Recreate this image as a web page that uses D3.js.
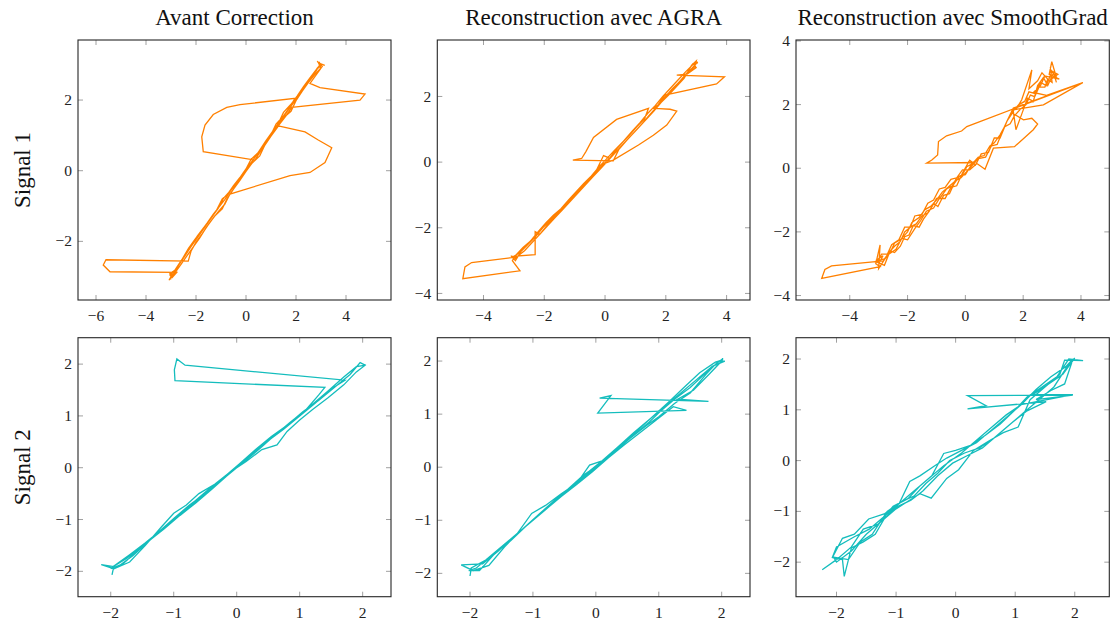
<!DOCTYPE html>
<html><head><meta charset="utf-8">
<script src="https://cdn.jsdelivr.net/npm/d3@7"></script>
<style>body{margin:0;background:#fff}svg{display:block}</style>
</head><body>
<svg id="c" width="1111" height="622"></svg>
<script>
// ---------- data ----------
const colTitles = ["Avant Correction", "Reconstruction avec AGRA", "Reconstruction avec SmoothGrad"];
const rowLabels = ["Signal 1", "Signal 2"];

const ticksS1AvantX = [-6, -4, -2, 0, 2, 4];
const ticksS1AvantY = [-2, 0, 2];
const ticksS1AgraX = [-4, -2, 0, 2, 4];
const ticksS1AgraY = [-4, -2, 0, 2];
const ticksS1SmoothX = [-4, -2, 0, 2, 4];
const ticksS1SmoothY = [-4, -2, 0, 2, 4];
const ticksS2 = [-2, -1, 0, 1, 2];

const domS1AvantX = [-6.72, 5.8],  domS1AvantY = [-3.66, 3.70];
const domS1AgraX = [-5.52, 4.77],  domS1AgraY = [-4.2, 3.72];
const domS1SmoothX = [-5.86, 4.98], domS1SmoothY = [-4.14, 4.03];
const domS2AvantX = [-2.52, 2.45], domS2AvantY = [-2.49, 2.51];
const domS2AgraX = [-2.52, 2.45],  domS2AgraY = [-2.44, 2.44];
const domS2SmoothX = [-2.68, 2.58], domS2SmoothY = [-2.68, 2.42];

const sig1Avant = [
[-3.02,-3.08],[-2.95,-2.9],[-3.05,-2.98],[-2.8,-2.78],[-2.55,-2.5],[-2.3,-2.2],[-2.05,-1.95],[-1.8,-1.72],[-1.55,-1.48],[-1.3,-1.22],[-1.05,-1.0],[-0.85,-0.82],[-0.6,-0.55],[-0.35,-0.32],[-0.1,-0.05],[0.15,0.18],[0.4,0.42],[0.65,0.66],[0.9,0.92],[1.15,1.18],[1.4,1.42],[1.65,1.68],[1.9,1.92],[2.15,2.2],[2.4,2.42],[2.65,2.68],[2.85,2.9],[3.0,3.02],[3.15,2.98],[2.9,3.05],[3.0,2.9],
[2.56,2.47],[2.96,2.35],[4.76,2.17],[4.56,2.0],[1.83,1.79],[1.6,1.55],[1.29,1.27],[2.36,1.10],[2.89,0.87],[3.43,0.65],[3.16,0.23],[2.56,-0.05],[1.76,-0.14],[-0.64,-0.66],[-0.85,-0.95],[-1.1,-1.15],[-1.35,-1.38],[-1.6,-1.62],[-1.85,-1.9],[-2.1,-2.15],[-2.35,-2.4],[-2.6,-2.65],[-2.8,-2.85],[-3.0,-3.0],[-3.08,-3.1],[-2.92,-2.95],
[-2.7,-2.68],[-2.45,-2.42],[-2.2,-2.15],[-1.95,-1.85],[-1.7,-1.62],[-1.45,-1.4],[-1.2,-1.15],[-0.95,-0.8],[-0.75,-0.68],[-0.5,-0.42],[-0.25,-0.2],[0.0,0.05],[0.2,0.32],[0.5,0.52],[0.75,0.78],[1.0,1.02],[1.2,1.32],[1.5,1.55],[1.75,1.8],[1.96,2.05],[-0.24,1.87],[-0.77,1.79],[-1.31,1.59],[-1.64,1.29],[-1.77,0.96],[-1.71,0.54],[0.36,0.30],[0.55,0.52],[0.8,0.8],[1.05,1.05],[1.3,1.32],[1.55,1.6],[1.8,1.85],[2.05,2.1],[2.3,2.32],[2.55,2.6],[2.8,2.82],[2.95,3.0],[2.85,3.1],[3.05,2.95],
[2.75,2.72],[2.5,2.5],[2.25,2.25],[2.0,1.98],[1.8,1.68],[1.5,1.5],[1.25,1.22],[1.0,0.98],[0.75,0.72],[0.55,0.42],[0.25,0.22],[0.0,-0.02],[-0.25,-0.28],[-0.5,-0.52],[-0.75,-0.78],[-0.95,-1.08],[-1.25,-1.28],[-1.5,-1.52],[-1.75,-1.78],[-2.0,-2.02],[-2.2,-2.28],[-2.31,-2.56],[-5.6,-2.52],[-5.71,-2.67],[-5.44,-2.86],[-2.77,-2.88],[-2.95,-3.02],[-3.05,-2.92],[-2.85,-2.82],
[-2.6,-2.55],[-2.35,-2.3],[-2.1,-2.05],[-1.85,-1.8],[-1.6,-1.55],[-1.35,-1.3],[-1.1,-1.05],[-0.9,-0.78],[-0.7,-0.62],[-0.45,-0.4],[-0.2,-0.18],[0.05,0.08],[0.3,0.32],[0.55,0.58],[0.8,0.85],[1.05,1.1],[1.3,1.35],[1.5,1.65],[1.8,1.88],[2.05,2.12],[2.3,2.38],[2.55,2.62],[2.8,2.85],[3.0,2.98],[2.92,3.08]
];

const sig1Agra = [
[-3.0,-2.95],[-3.1,-2.85],[-2.95,-3.0],[-2.75,-2.7],[-2.5,-2.45],[-2.25,-2.2],[-2.0,-1.95],[-1.75,-1.7],[-1.5,-1.5],[-1.25,-1.25],[-1.0,-1.0],[-0.75,-0.72],[-0.5,-0.5],[-0.25,-0.25],[0.0,-0.02],[0.25,0.22],[0.5,0.45],[0.75,0.7],[1.0,0.95],[1.25,1.2],[1.5,1.45],[1.75,1.72],[2.0,1.98],[2.25,2.25],[2.5,2.5],[2.75,2.75],[2.95,2.95],[3.05,3.05],[2.9,3.0],[3.0,2.88],
[2.7,2.68],[2.36,2.65],[3.93,2.60],[3.67,2.38],[1.97,2.04],[1.75,1.75],[1.59,1.64],[2.14,1.61],[2.36,1.55],[2.03,1.13],[1.59,0.82],[1.10,0.52],[0.27,0.06],[-0.16,-0.09],[-0.4,-0.42],[-0.65,-0.68],[-0.9,-0.92],[-1.15,-1.18],[-1.4,-1.42],[-1.65,-1.68],[-1.9,-1.92],[-2.15,-2.2],[-2.4,-2.45],[-2.65,-2.7],[-2.91,-2.89],[-4.39,-3.06],[-4.61,-3.19],[-4.68,-3.55],[-2.80,-3.31],[-3.05,-3.0],[-2.95,-2.85],
[-2.7,-2.6],[-2.45,-2.4],[-2.2,-2.12],[-1.95,-1.85],[-1.7,-1.62],[-1.45,-1.42],[-1.2,-1.15],[-0.95,-0.9],[-0.7,-0.65],[-0.45,-0.42],[-0.2,-0.15],[0.05,0.1],[0.3,0.35],[0.55,0.58],[0.8,0.82],[1.05,1.08],[1.3,1.32],[1.43,1.64],[0.38,1.30],[-0.38,0.75],[-0.63,0.32],[-0.77,0.11],[-1.06,0.06],[0.27,0.04],[0.45,0.38],[0.7,0.65],[0.95,0.9],[1.2,1.15],[1.45,1.42],[1.7,1.68],[1.95,1.95],[2.2,2.22],[2.45,2.45],[2.7,2.72],[2.95,2.9],[3.0,3.08],[2.85,2.95],
[2.6,2.55],[2.35,2.3],[2.1,2.05],[1.85,1.82],[1.6,1.55],[1.35,1.3],[1.1,1.05],[0.85,0.8],[0.6,0.55],[0.35,0.3],[0.1,0.05],[-0.15,-0.2],[-0.4,-0.45],[-0.65,-0.7],[-0.9,-0.95],[-1.15,-1.2],[-1.4,-1.45],[-1.65,-1.7],[-1.9,-1.95],[-2.15,-2.2],[-2.3,-2.12],[-2.30,-2.82],[-3.02,-2.87],[-2.9,-2.95],[-3.05,-2.9],
[-2.8,-2.75],[-2.55,-2.52],[-2.3,-2.28],[-2.05,-2.0],[-1.8,-1.78],[-1.55,-1.55],[-1.3,-1.28],[-1.05,-1.05],[-0.8,-0.78],[-0.55,-0.55],[-0.3,-0.28],[-0.05,0.2],[0.15,0.12],[0.4,0.42],[0.65,0.68],[0.9,0.95],[1.15,1.2],[1.4,1.48],[1.65,1.72],[1.9,2.0],[2.15,2.25],[2.4,2.5],[2.65,2.75],[2.9,2.98],[3.05,3.02]
];

const sig1Smooth = [
[-3.0,-3.0],[-2.85,-2.75],[-3.1,-2.9],[-2.8,-2.85],[-2.6,-2.6],[-2.45,-2.45],[-2.25,-2.3],[-2.1,-2.0],[-1.9,-1.85],[-1.7,-1.75],[-1.5,-1.5],[-1.3,-1.4],[-1.15,-1.2],[-1.0,-0.95],[-0.85,-0.9],[-0.65,-0.65],[-0.45,-0.55],[-0.3,-0.3],[-0.1,-0.2],[0.05,0.05],[0.25,0.15],[0.45,0.35],[0.65,0.4],[0.85,0.7],[1.0,0.8],[1.2,1.05],[1.35,1.3],[1.55,1.4],[1.7,1.65],[1.9,1.85],[2.1,2.0],[2.25,2.3],[2.4,2.25],[2.55,2.55],[2.75,2.55],[2.85,2.8],[3.0,2.7],[2.95,3.1],[3.15,2.85],[2.99,3.35],[2.9,2.95],[3.25,2.8],
[2.75,2.9],[2.6,2.6],[2.35,2.38],[2.81,2.29],[4.06,2.69],[0.05,1.31],[-0.13,1.17],[-0.65,1.02],[-0.93,0.84],[-0.96,0.42],[-1.16,0.26],[-1.34,0.16],[0.33,0.18],[0.1,-0.05],[-0.15,-0.3],[-0.35,-0.4],[-0.6,-0.6],[-0.8,-0.75],[-1.0,-1.0],[-1.2,-1.2],[-1.4,-1.3],[-1.6,-1.55],[-1.85,-1.7],[-2.0,-2.0],[-2.25,-2.25],[-2.45,-2.35],[-2.6,-2.65],[-2.84,-2.91],[-4.63,-3.07],[-4.86,-3.18],[-4.97,-3.46],[-2.95,-3.09],[-3.1,-3.0],[-2.95,-2.41],[-3.0,-3.15],
[-2.75,-2.8],[-2.6,-2.6],[-2.45,-2.65],[-2.25,-2.45],[-2.1,-2.15],[-1.95,-2.1],[-1.8,-1.8],[-1.6,-1.85],[-1.45,-1.6],[-1.25,-1.35],[-1.1,-1.1],[-0.95,-1.2],[-0.75,-0.85],[-0.55,-0.8],[-0.4,-0.5],[-0.2,-0.25],[0.0,-0.2],[0.2,0.1],[0.45,0.3],[0.7,0.35],[0.9,0.7],[1.1,0.75],[1.3,1.2],[1.45,1.5],[1.66,1.89],[4.06,2.69],[2.70,1.99],[1.75,1.85],[1.95,2.15],[2.3,3.09],[2.2,2.5],[2.5,2.75],[2.65,3.0],[2.9,2.75],[3.2,2.95],[3.0,3.05],
[2.8,2.6],[2.6,2.7],[2.4,2.35],[2.2,2.4],[2.05,2.1],[1.85,2.0],[1.6,1.75],[2.01,1.52],[2.30,1.57],[2.50,1.39],[2.35,1.21],[1.70,0.68],[0.97,0.63],[0.68,-0.03],[0.4,0.15],[0.15,-0.05],[-0.1,-0.05],[-0.3,-0.3],[-0.5,-0.35],[-0.7,-0.6],[-0.9,-0.65],[-1.1,-1.0],[-1.3,-1.1],[-1.5,-1.45],[-1.75,-1.5],[-1.9,-1.85],[-2.1,-1.85],[-2.3,-2.25],[-2.55,-2.4],[-2.7,-2.7],[-2.9,-2.7],[-3.05,-2.95],
[-2.8,-3.05],[-2.65,-2.7],[-2.4,-2.55],[-2.2,-2.2],[-2.0,-2.25],[-1.75,-1.9],[-1.55,-1.65],[-1.35,-1.35],[-1.1,-1.25],[-0.9,-0.95],[-0.7,-0.95],[-0.5,-0.6],[-0.3,-0.55],[-0.1,-0.15],[0.15,0.25],[0.35,0.1],[0.55,0.45],[0.8,0.5],[1.0,0.95],[1.2,0.95],[1.45,1.5],[1.66,1.78],[1.75,1.21],[1.95,1.7],[2.15,2.2],[2.35,2.1],[2.5,2.6],[2.7,2.85],[2.85,2.6],[3.05,3.0],[3.15,2.7]
];

const sig2Avant = [
[-1.98,-2.07],[-1.95,-1.9],[-1.75,-1.75],[-1.5,-1.52],[-1.25,-1.25],[-1.0,-0.98],[-0.75,-0.72],[-0.5,-0.5],[-0.25,-0.25],[0.0,0.0],[0.25,0.25],[0.5,0.52],[0.75,0.75],[1.0,1.0],[1.25,1.25],[1.5,1.52],[1.72,1.69],[-0.82,1.98],[-0.95,2.10],[-0.99,1.89],[-0.98,1.68],[1.40,1.55],[1.3,1.4],
[1.1,1.12],[0.85,0.88],[0.6,0.62],[0.35,0.35],[0.1,0.1],[-0.15,-0.15],[-0.4,-0.42],[-0.65,-0.68],[-0.9,-0.92],[-1.15,-1.18],[-1.4,-1.42],[-1.65,-1.7],[-1.9,-1.92],[-2.15,-1.87],[-1.95,-1.95],[-1.7,-1.82],
[-1.45,-1.5],[-1.2,-1.15],[-1.0,-0.88],[-0.8,-0.72],[-0.6,-0.5],[-0.35,-0.32],[-0.1,-0.08],[0.15,0.12],[0.4,0.35],[0.64,0.44],[0.8,0.7],[1.0,0.92],[1.2,1.12],[1.45,1.35],[1.7,1.6],[1.9,1.85],[2.04,1.98],[1.96,2.03],
[1.8,1.8],[1.55,1.55],[1.3,1.3],[1.05,1.08],[0.8,0.82],[0.55,0.6],[0.3,0.35],[0.05,0.08],[-0.2,-0.18],[-0.45,-0.42],[-0.7,-0.68],[-0.95,-0.95],[-1.2,-1.2],[-1.45,-1.45],[-1.7,-1.68],[-1.95,-1.9],[-2.0,-1.95],
[-1.8,-1.85],[-1.55,-1.58],[-1.3,-1.32],[-1.05,-1.05],[-0.8,-0.8],[-0.55,-0.55],[-0.3,-0.3],[-0.05,-0.05],[0.2,0.22],[0.45,0.5],[0.7,0.72],[0.95,0.95],[1.2,1.22],[1.45,1.48],[1.7,1.75],[1.9,1.95],[2.05,1.98]
];

const sig2Agra = [
[-2.0,-2.05],[-1.98,-1.9],[-1.75,-1.75],[-1.5,-1.5],[-1.25,-1.25],[-1.02,-0.87],[-0.8,-0.72],[-0.55,-0.5],[-0.3,-0.3],[-0.1,0.04],[0.1,0.12],[0.35,0.35],[0.6,0.6],[0.85,0.85],[1.05,1.08],[1.25,1.28],[1.5,1.5],[1.75,1.78],[1.95,1.98],[2.02,2.05],[2.0,2.0],
[1.8,1.75],[1.55,1.45],[1.3,1.28],[1.79,1.24],[0.06,1.30],[0.24,1.35],[0.03,1.02],[1.44,1.07],[1.23,1.14],[0.96,0.89],[0.7,0.65],[0.45,0.42],[0.2,0.18],[-0.05,-0.08],[-0.3,-0.32],[-0.55,-0.55],[-0.8,-0.8],[-1.05,-1.05],[-1.3,-1.3],[-1.55,-1.58],[-1.8,-1.82],[-2.14,-1.84],[-1.95,-1.95],
[-1.7,-1.85],[-1.45,-1.5],[-1.2,-1.2],[-0.95,-0.95],[-0.7,-0.68],[-0.45,-0.42],[-0.2,-0.15],[0.05,0.05],[0.3,0.3],[0.55,0.55],[0.8,0.78],[1.0,0.95],[1.25,1.2],[1.5,1.4],[1.75,1.75],[1.95,2.0],[2.05,2.0],
[1.85,1.9],[1.6,1.65],[1.35,1.4],[1.1,1.15],[0.85,0.9],[0.6,0.65],[0.35,0.38],[0.1,0.12],[-0.15,-0.12],[-0.4,-0.38],[-0.65,-0.62],[-0.9,-0.88],[-1.15,-1.15],[-1.4,-1.42],[-1.65,-1.65],[-1.9,-1.9],[-2.02,-1.95],
[-1.85,-1.95],[-1.6,-1.62],[-1.35,-1.38],[-1.1,-1.1],[-0.85,-0.85],[-0.6,-0.6],[-0.35,-0.35],[-0.1,-0.1],[0.15,0.15],[0.4,0.4],[0.65,0.68],[0.9,0.95],[1.15,1.22],[1.4,1.5],[1.65,1.78],[1.9,1.98],[2.0,2.02]
];

const sig2Smooth = [
[-2.24,-2.15],[-2.0,-1.95],[-1.75,-1.7],[-1.55,-1.35],[-1.3,-1.25],[-1.05,-0.9],[-0.8,-0.75],[-0.6,-0.5],[-0.4,-0.3],[-0.2,0.14],[0.0,0.2],[0.25,0.3],[0.5,0.5],[0.75,0.72],[1.0,1.0],[1.2,1.25],[1.45,1.45],[1.7,1.65],[1.9,2.0],[2.14,1.97],[1.83,1.98],
[1.75,1.7],[1.5,1.45],[1.25,1.2],[1.05,0.66],[0.8,0.55],[0.55,0.38],[0.3,0.2],[0.05,-0.18],[-0.15,-0.35],[-0.41,-0.74],[-0.6,-0.65],[-0.8,-0.8],[-1.0,-0.95],[-1.2,-1.15],[-1.35,-1.45],[-1.55,-1.6],[-1.75,-1.72],[-1.87,-2.28],[-1.9,-1.95],[-2.07,-1.91],
[-1.9,-1.53],[-1.7,-1.45],[-1.46,-1.15],[-1.2,-1.05],[-0.95,-0.85],[-0.77,-0.41],[-0.6,-0.3],[-0.35,-0.1],[-0.15,0.05],[0.1,0.2],[0.35,0.35],[0.6,0.6],[0.85,0.85],[1.1,1.1],[1.35,1.4],[1.6,1.65],[1.85,1.85],[1.97,2.0],
[1.83,1.51],[1.6,1.38],[1.35,1.2],[1.97,1.29],[0.20,1.28],[0.51,1.08],[0.20,1.02],[1.52,1.16],[1.2,0.98],[0.95,0.75],[0.7,0.5],[0.45,0.25],[0.2,0.1],[-0.05,-0.05],[-0.3,-0.3],[-0.55,-0.6],[-0.75,-0.78],[-1.0,-0.92],[-1.25,-1.2],[-1.5,-1.45],[-1.75,-1.78],[-2.0,-2.0],[-2.05,-1.9],
[-1.8,-1.95],[-1.6,-1.6],[-1.4,-1.45],[-1.15,-1.0],[-0.9,-0.8],[-0.7,-0.7],[-0.5,-0.45],[-0.3,-0.25],[-0.1,0.0],[0.15,0.15],[0.4,0.25],[0.65,0.45],[0.9,0.7],[1.15,0.95],[1.4,1.2],[1.65,1.45],[1.9,1.9],[2.0,2.02],
[1.8,1.7],[1.55,1.5],[1.3,1.3],[1.97,1.30],[1.1,1.1],[0.85,0.9],[0.6,0.65],[0.35,0.4],[0.1,0.15],[-0.2,-0.1],[-0.45,-0.35],[-0.7,-0.6],[-0.95,-0.85],[-1.2,-1.1],[-1.45,-1.35],[-1.7,-1.5],[-2.0,-1.7],[-2.07,-1.91]
];

// ---------- layout ----------
const orange = "#ff8000", teal = "#14bdbd";
const colX = [[78, 391], [437.3, 750], [796, 1109.3]];
const rowY = [[40, 300], [337.7, 596.7]];

const panels = [
  {r:0,c:0,data:sig1Avant, dx:domS1AvantX, dy:domS1AvantY, tx:ticksS1AvantX, ty:ticksS1AvantY, color:orange},
  {r:0,c:1,data:sig1Agra, dx:domS1AgraX, dy:domS1AgraY, tx:ticksS1AgraX, ty:ticksS1AgraY, color:orange},
  {r:0,c:2,data:sig1Smooth, dx:domS1SmoothX, dy:domS1SmoothY, tx:ticksS1SmoothX, ty:ticksS1SmoothY, color:orange},
  {r:1,c:0,data:sig2Avant, dx:domS2AvantX, dy:domS2AvantY, tx:ticksS2, ty:ticksS2, color:teal},
  {r:1,c:1,data:sig2Agra, dx:domS2AgraX, dy:domS2AgraY, tx:ticksS2, ty:ticksS2, color:teal},
  {r:1,c:2,data:sig2Smooth, dx:domS2SmoothX, dy:domS2SmoothY, tx:ticksS2, ty:ticksS2, color:teal}
];

const svg = d3.select("#c");
const font = "'Liberation Serif','DejaVu Serif',serif";
const fmt = d3.format("d");
const TL = 5;

panels.forEach((p, i) => {
  const [x0, x1] = colX[p.c], [y0, y1] = rowY[p.r];
  const x = d3.scaleLinear().domain(p.dx).range([x0, x1]);
  const y = d3.scaleLinear().domain(p.dy).range([y1, y0]);
  const g = svg.append("g");
  const cid = "clip" + i;
  svg.append("clipPath").attr("id", cid).append("rect")
    .attr("x", x0).attr("y", y0).attr("width", x1 - x0).attr("height", y1 - y0);

  const tickStyle = s => s.attr("stroke", "#a0a0a0").attr("stroke-width", 1);
  g.selectAll(".txb").data(p.tx).join("line").call(tickStyle)
    .attr("x1", d => x(d)).attr("x2", d => x(d)).attr("y1", y1).attr("y2", y1 - TL);
  g.selectAll(".txt").data(p.tx).join("line").call(tickStyle)
    .attr("x1", d => x(d)).attr("x2", d => x(d)).attr("y1", y0).attr("y2", y0 + TL);
  g.selectAll(".tyl").data(p.ty).join("line").call(tickStyle)
    .attr("y1", d => y(d)).attr("y2", d => y(d)).attr("x1", x0).attr("x2", x0 + TL);
  g.selectAll(".tyr").data(p.ty).join("line").call(tickStyle)
    .attr("y1", d => y(d)).attr("y2", d => y(d)).attr("x1", x1).attr("x2", x1 - TL);

  const line = d3.line().x(d => x(d[0])).y(d => y(d[1]));
  g.append("path").datum(p.data).attr("d", line)
    .attr("clip-path", `url(#${cid})`)
    .attr("fill", "none").attr("stroke", p.color).attr("stroke-width", 1.3)
    .attr("stroke-linejoin", "miter").attr("stroke-miterlimit", 4);

  g.append("rect").attr("x", x0).attr("y", y0).attr("width", x1 - x0).attr("height", y1 - y0)
    .attr("fill", "none").attr("stroke", "#262626").attr("stroke-width", 1.1);

  g.selectAll(".lx").data(p.tx).join("text")
    .attr("x", d => x(d)).attr("y", y1 + 21).attr("text-anchor", "middle")
    .attr("font-family", font).attr("font-size", 15.5).attr("fill", "#222")
    .text(d => fmt(d));
  g.selectAll(".ly").data(p.ty).join("text")
    .attr("x", x0 - 6).attr("y", d => y(d)).attr("dy", "0.33em").attr("text-anchor", "end")
    .attr("font-family", font).attr("font-size", 15.5).attr("fill", "#222")
    .text(d => fmt(d));

  if (p.r === 0) {
    svg.append("text").attr("x", (x0 + x1) / 2).attr("y", 25).attr("text-anchor", "middle")
      .attr("font-family", font).attr("font-size", 23).attr("fill", "#111")
      .text(colTitles[p.c]);
  }
  if (p.c === 0) {
    const cy = (y0 + y1) / 2;
    svg.append("text").attr("transform", `translate(30,${cy}) rotate(-90)`)
      .attr("text-anchor", "middle")
      .attr("font-family", font).attr("font-size", 23).attr("fill", "#111")
      .text(rowLabels[p.r]);
  }
});
</script>
</body></html>
